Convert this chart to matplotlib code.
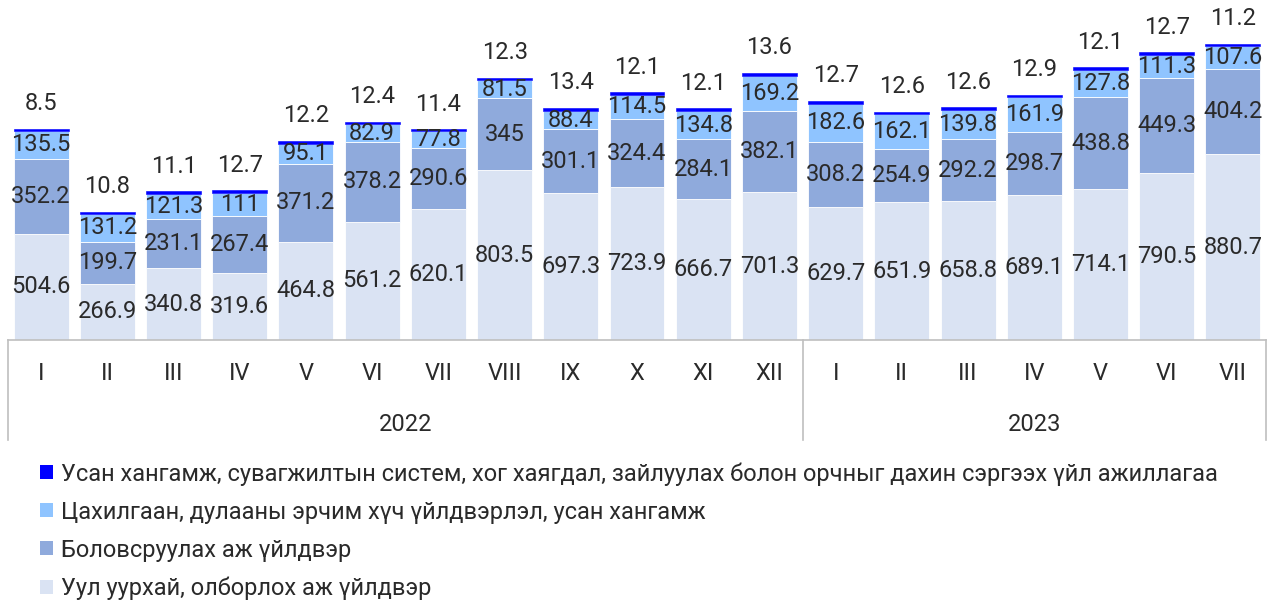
import matplotlib
matplotlib.use("Agg")
import matplotlib.pyplot as plt
from matplotlib.patches import Patch
from matplotlib.lines import Line2D
from matplotlib.transforms import blended_transform_factory

plt.rcParams['font.family'] = ['Roboto', 'DejaVu Sans']

months = ["I", "II", "III", "IV", "V", "VI", "VII", "VIII", "IX", "X", "XI", "XII",
          "I", "II", "III", "IV", "V", "VI", "VII"]
years = ["2022", "2023"]
year_counts = [12, 7]

mining = [504.6, 266.9, 340.8, 319.6, 464.8, 561.2, 620.1, 803.5, 697.3, 723.9,
          666.7, 701.3, 629.7, 651.9, 658.8, 689.1, 714.1, 790.5, 880.7]
manufacturing = [352.2, 199.7, 231.1, 267.4, 371.2, 378.2, 290.6, 345, 301.1, 324.4,
                 284.1, 382.1, 308.2, 254.9, 292.2, 298.7, 438.8, 449.3, 404.2]
electricity = [135.5, 131.2, 121.3, 111, 95.1, 82.9, 77.8, 81.5, 88.4, 114.5,
               134.8, 169.2, 182.6, 162.1, 139.8, 161.9, 127.8, 111.3, 107.6]
water = [8.5, 10.8, 11.1, 12.7, 12.2, 12.4, 11.4, 12.3, 13.4, 12.1,
         12.1, 13.6, 12.7, 12.6, 12.6, 12.9, 12.1, 12.7, 11.2]

series_names = [
    "Уул уурхай, олборлох аж үйлдвэр",
    "Боловсруулах аж үйлдвэр",
    "Цахилгаан, дулааны эрчим хүч үйлдвэрлэл, усан хангамж",
    "Усан хангамж, сувагжилтын систем, хог хаягдал, зайлуулах болон орчныг дахин сэргээх үйл ажиллагаа",
]
colors = ["#dae3f3", "#8faadc", "#8fc4ff", "#0000ff"]
text_color = "#2a2a2a"
axis_color = "#bfbfbf"
fs = 17

fig = plt.figure(figsize=(12.74, 6.01), dpi=100)
ax = fig.add_axes([8 / 1274, 1 - 340 / 601, 1258 / 1274, 340 / 601])

x = list(range(len(months)))
width = 0.83
bottom = [0.0] * len(x)
all_series = [mining, manufacturing, electricity, water]
for vals, col, name in zip(all_series, colors, series_names):
    is_top = vals is water
    ax.bar(x, vals, width, bottom=bottom, color=col,
           edgecolor=col if is_top else "white",
           linewidth=0.4 if is_top else 0.6, label=name)
    new_bottom = [b + v for b, v in zip(bottom, vals)]
    if not is_top:
        for xi, b, v in zip(x, bottom, vals):
            ax.text(xi, b + v / 2, f"{v:g}", ha="center", va="center",
                    fontsize=fs, color=text_color)
    else:
        for xi, top, v in zip(x, new_bottom, vals):
            ax.annotate(f"{v:g}", (xi, top), xytext=(0, 18), textcoords="offset points",
                        ha="center", va="center", fontsize=fs, color=text_color)
    bottom = new_bottom

ax.set_xlim(-0.5, len(x) - 0.5)
ax.set_ylim(0, 340 / 0.211)
ax.axis("off")

# Category axis: month labels, year labels and separators
trans = blended_transform_factory(ax.transData, ax.transAxes)
ax_h_px = 340
ax.add_line(Line2D([0, 1], [0, 0], transform=ax.transAxes, color=axis_color,
                   linewidth=1.2, clip_on=False))
for xi, m in zip(x, months):
    ax.text(xi, -33 / ax_h_px, m, transform=trans, ha="center", va="center",
            fontsize=fs, color=text_color)
start = 0
bounds = [-0.5]
for yr, n in zip(years, year_counts):
    ax.text(start + (n - 1) / 2, -84 / ax_h_px, yr, transform=trans, ha="center",
            va="center", fontsize=fs, color=text_color)
    start += n
    bounds.append(start - 0.5)
for bx in bounds:
    ax.add_line(Line2D([bx, bx], [0, -100 / ax_h_px], transform=trans,
                       color=axis_color, linewidth=1.2, clip_on=False))

handles = [Patch(facecolor=c) for c in colors][::-1]
labels = series_names[::-1]
leg = fig.legend(handles, labels, loc="upper left", bbox_to_anchor=(40 / 1274, 1 - 462 / 601),
                 frameon=False, fontsize=fs, handlelength=0.55, handleheight=0.55,
                 handletextpad=0.35, labelspacing=0.64, borderaxespad=0, borderpad=0)
for t in leg.get_texts():
    t.set_color(text_color)

fig.savefig("out.png", dpi=100, facecolor="white")
